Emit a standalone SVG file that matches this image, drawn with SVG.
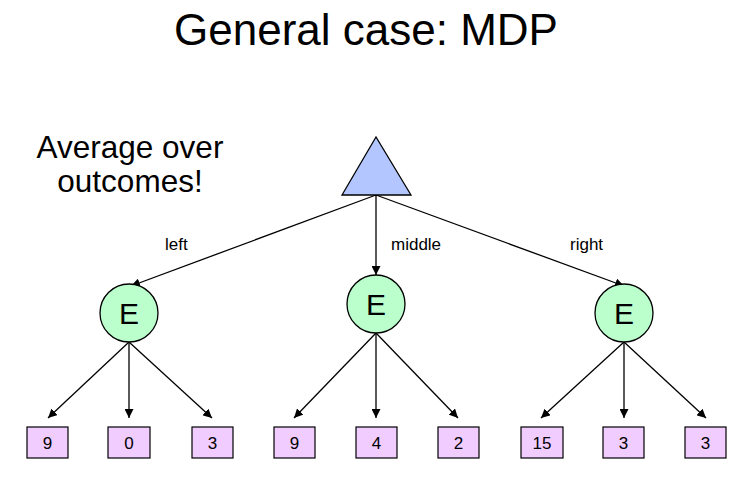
<svg xmlns="http://www.w3.org/2000/svg" width="746" height="480" viewBox="0 0 746 480">
<style>
text{font-family:"Liberation Sans",Arial,sans-serif;fill:#000}
.chance{fill:#bbffcc;stroke:#000;stroke-width:1.3}
.leaf rect{fill:#f0ccff;stroke:#000;stroke-width:1.2}
.leaf text{font-size:17px;text-anchor:middle}
.e{font-size:30px;text-anchor:middle}
.edge{stroke:#000;stroke-width:1.3;fill:none;marker-end:url(#ah)}
.lbl{font-size:17px}
</style>
<defs>
<marker id="ah" viewBox="0 0 10 10" refX="10" refY="5" markerWidth="9" markerHeight="9" markerUnits="userSpaceOnUse" orient="auto">
<path d="M0,0 L10,5 L0,10 z" fill="#000"/>
</marker>
</defs>
<rect width="746" height="480" fill="#fff"/>
<text x="366" y="45" font-size="44" text-anchor="middle">General case: MDP</text>
<text x="130" y="158" font-size="31.5" text-anchor="middle">Average over</text>
<text x="130" y="192" font-size="31.5" text-anchor="middle">outcomes!</text>
<g id="connectors">
<line class="edge" x1="376" y1="195" x2="131" y2="286"/>
<line class="edge" x1="376" y1="195" x2="376" y2="275"/>
<line class="edge" x1="376" y1="195" x2="624" y2="286"/>
<line class="edge" x1="129" y1="342" x2="48" y2="418"/>
<line class="edge" x1="129" y1="342" x2="129" y2="418"/>
<line class="edge" x1="129" y1="342" x2="212" y2="418"/>
<line class="edge" x1="376" y1="333" x2="294" y2="418"/>
<line class="edge" x1="376" y1="333" x2="376" y2="418"/>
<line class="edge" x1="376" y1="333" x2="458" y2="418"/>
<line class="edge" x1="624" y1="342" x2="541" y2="418"/>
<line class="edge" x1="624" y1="342" x2="624" y2="418"/>
<line class="edge" x1="624" y1="342" x2="706" y2="418"/>
<text class="lbl" x="165" y="250">left</text>
<text class="lbl" x="391" y="250">middle</text>
<text class="lbl" x="570" y="250">right</text>
</g>
<g id="max">
<polygon points="376,137 342,195 411,195" fill="#b3c6ff" stroke="#000" stroke-width="1.3"/>
</g>
<g id="chance-left"><circle class="chance" cx="129" cy="313" r="29"/><text class="e" x="129" y="324">E</text></g>
<g id="chance-middle"><circle class="chance" cx="376" cy="304" r="29"/><text class="e" x="376" y="315">E</text></g>
<g id="chance-right"><circle class="chance" cx="624" cy="313" r="29"/><text class="e" x="624" y="324">E</text></g>
<g id="leaf1" class="leaf"><rect x="27" y="427" width="41" height="31"/><text x="47.5" y="449">9</text></g>
<g id="leaf2" class="leaf"><rect x="108" y="427" width="42" height="31"/><text x="129" y="449">0</text></g>
<g id="leaf3" class="leaf"><rect x="192" y="427" width="41" height="31"/><text x="212.5" y="449">3</text></g>
<g id="leaf4" class="leaf"><rect x="274" y="427" width="41" height="31"/><text x="294.5" y="449">9</text></g>
<g id="leaf5" class="leaf"><rect x="356" y="427" width="41" height="31"/><text x="376.5" y="449">4</text></g>
<g id="leaf6" class="leaf"><rect x="438" y="427" width="41" height="31"/><text x="458.5" y="449">2</text></g>
<g id="leaf7" class="leaf"><rect x="521" y="427" width="42" height="31"/><text x="542" y="449">15</text></g>
<g id="leaf8" class="leaf"><rect x="603" y="427" width="41" height="31"/><text x="623.5" y="449">3</text></g>
<g id="leaf9" class="leaf"><rect x="685" y="427" width="41" height="31"/><text x="705.5" y="449">3</text></g>
</svg>
